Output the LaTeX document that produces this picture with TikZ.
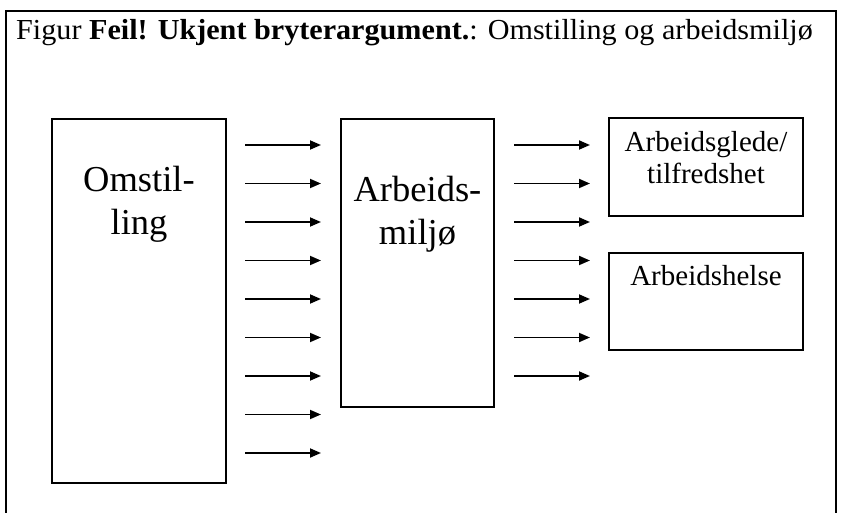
\documentclass[tikz,border=0pt]{standalone}
\usepackage{fontspec}
\setmainfont{Liberation Serif}
\usetikzlibrary{arrows.meta}
\tikzset{
  frame/.style={line width=2pt},
  boxstyle/.style={draw, line width=2pt, rectangle, inner sep=0pt},
  bigtext/.style={anchor=base, inner sep=0pt, font=\fontsize{36.5}{42}\selectfont},
  smalltext/.style={anchor=base, inner sep=0pt, font=\fontsize{29}{33}\selectfont},
  arr/.style={line width=1.8pt, -{Triangle[length=11pt,width=9pt]}}
}
\begin{document}
\begin{tikzpicture}[x=1pt,y=-1pt]
\useasboundingbox (0,0) rectangle (841,513);
\draw[frame] (6,514) -- (6,11) -- (836,11) -- (836,514);
\node[anchor=base west, inner sep=0pt, font=\fontsize{29}{33}\selectfont] (title) at (16,40)
  {\scalebox{1.04}[1]{Figur \textbf{Feil! Ukjent bryterargument.}: Omstilling og arbeidsmilj\o}};
% boxes
\node[boxstyle, minimum width=174pt, minimum height=364pt] (omst) at (139,301) {};
\node[boxstyle, minimum width=153pt, minimum height=288pt] (arb) at (417.5,263) {};
\node[boxstyle, minimum width=194pt, minimum height=98pt] (glede) at (706,167) {};
\node[boxstyle, minimum width=194pt, minimum height=97pt] (helse) at (706,301.5) {};
% texts
\node[bigtext] (t1) at (139,192) {Omstil-};
\node[bigtext] (t2) at (139,235) {ling};
\node[bigtext] (t3) at (417.5,202) {Arbeids-};
\node[bigtext] (t4) at (417.5,244) {milj\o};
\node[smalltext] (t5) at (706,152) {Arbeidsglede/};
\node[smalltext] (t6) at (706,184) {tilfredshet};
\node[smalltext] (t7) at (706,285) {Arbeidshelse};
% arrow end coordinates
\path (omst.north east) ++(18,0) coordinate (la);
\path (arb.north west) ++(-19,0) coordinate (lb);
\path (arb.north east) ++(19,0) coordinate (ra);
\path (glede.north west) ++(-18,0) coordinate (rb);
\foreach \y in {145,183.5,222,260.5,299,337.5,376,414.5,453}
  \draw[arr] (la |- 0,\y) -- (lb |- 0,\y);
\foreach \y in {145,183.5,222,260.5,299,337.5,376}
  \draw[arr] (ra |- 0,\y) -- (rb |- 0,\y);
\end{tikzpicture}
\end{document}
